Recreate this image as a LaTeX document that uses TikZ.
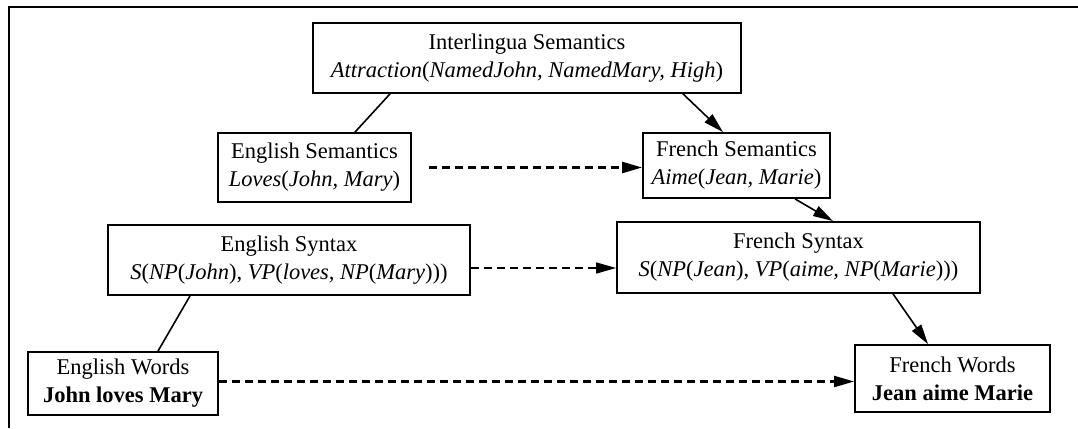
\documentclass[tikz,border=0pt]{standalone}
\usepackage{fontspec}
\setmainfont{Liberation Serif}
\usetikzlibrary{arrows.meta}
\tikzset{
  box/.style={draw, line width=1.8pt, inner sep=0pt, align=center, font=\fontsize{22.5}{28}\selectfont},
  link/.style={line width=1.6pt},
  arr/.style={line width=1.6pt, -{Triangle[length=20pt,width=11pt]}},
  darr/.style={line width=1.6pt, dash pattern=on 8pt off 5pt, -{Triangle[length=20pt,width=11pt]}},
  thickdarr/.style={darr, line width=2.6pt},
  middarr/.style={darr, line width=2.1pt},
  frame/.style={line width=1.6pt}
}
\begin{document}
\begin{tikzpicture}[x=1pt,y=-1pt]
\useasboundingbox (0,0) rectangle (1078,428);
\coordinate (ftl) at (9,7);
\coordinate (ftr) at (1078,7);
\coordinate (fbl) at (9,428);
\draw[frame] (ftr) -- (ftl) -- (fbl);
\node[box, minimum width=428pt, minimum height=70pt] (inter) at (527,58)
  {Interlingua Semantics\\ \textit{Attraction}(\textit{NamedJohn, NamedMary, High})};
\node[box, minimum width=193pt, minimum height=69pt] (esem) at (314.5,167.5)
  {English Semantics\\ \textit{Loves}(\textit{John, Mary})};
\node[box, minimum width=187pt, minimum height=65pt] (fsem) at (736.5,165.5)
  {French Semantics\\ \textit{Aime}(\textit{Jean, Marie})};
\node[box, minimum width=362pt, minimum height=70pt] (esyn) at (289,260)
  {English Syntax\\ \textit{S}(\textit{NP}(\textit{John}), \textit{VP}(\textit{loves, NP}(\textit{Mary})))};
\node[box, minimum width=363pt, minimum height=71pt] (fsyn) at (798.5,257.5)
  {French Syntax\\ \textit{S}(\textit{NP}(\textit{Jean}), \textit{VP}(\textit{aime, NP}(\textit{Marie})))};
\node[box, minimum width=190pt, minimum height=63pt] (ewrd) at (123,383.5)
  {English Words\\ \textbf{John loves Mary}};
\node[box, minimum width=195pt, minimum height=67pt] (fwrd) at (952.5,378.5)
  {French Words\\ \textbf{Jean aime Marie}};
\coordinate (synstart) at ([yshift=-8pt]esyn.east);
\coordinate (wrdstart) at ([yshift=2pt]ewrd.east);
\draw[link] ([xshift=-137pt]inter.south) -- ([xshift=40.5pt]esem.north);
\draw[arr] ([xshift=156pt]inter.south) -- ([xshift=-13.5pt]fsem.north);
\draw[arr] ([xshift=58.5pt]fsem.south) -- ([xshift=34.5pt]fsyn.north);
\draw[link] ([xshift=-99pt]esyn.south) -- ([xshift=35pt]ewrd.north);
\draw[arr] ([xshift=94.5pt]fsyn.south) -- ([xshift=-24.5pt]fwrd.north);
\draw[thickdarr] ([xshift=17pt]esem.east) -- (fsem.west |- esem.east);
\draw[darr] (synstart) -- (fsyn.west |- synstart);
\draw[middarr] (wrdstart) -- (fwrd.west |- wrdstart);
\end{tikzpicture}
\end{document}
